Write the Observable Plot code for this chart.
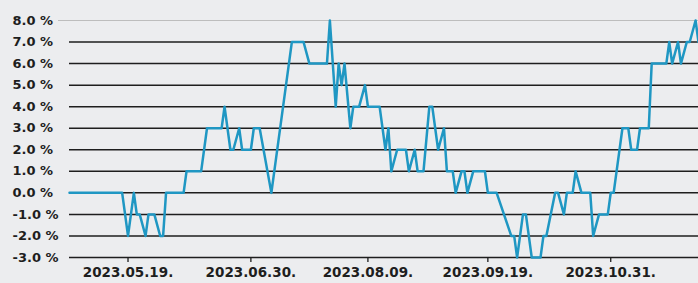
<!DOCTYPE html>
<html>
<head>
<meta charset="utf-8">
<script src="https://cdn.jsdelivr.net/npm/d3@7"></script>
<script src="https://cdn.jsdelivr.net/npm/@observablehq/plot@0.6"></script>
<style>
  html, body { margin: 0; padding: 0; background: #ecedef; }
  #chart svg { display: block; background: #ecedef; overflow: visible; }
</style>
</head>
<body>
<div id="chart"></div>
<script>
const dates = ["2023-04-29","2023-05-17","2023-05-19","2023-05-21","2023-05-22","2023-05-23","2023-05-25","2023-05-26","2023-05-28","2023-05-30","2023-05-31","2023-06-01","2023-06-07","2023-06-08","2023-06-13","2023-06-15","2023-06-20","2023-06-21","2023-06-23","2023-06-24","2023-06-26","2023-06-27","2023-06-30","2023-07-01","2023-07-03","2023-07-07","2023-07-14","2023-07-18","2023-07-20","2023-07-26","2023-07-27","2023-07-28","2023-07-29","2023-07-30","2023-07-31","2023-08-01","2023-08-03","2023-08-04","2023-08-06","2023-08-08","2023-08-09","2023-08-13","2023-08-15","2023-08-16","2023-08-17","2023-08-19","2023-08-22","2023-08-23","2023-08-25","2023-08-26","2023-08-28","2023-08-30","2023-08-31","2023-09-02","2023-09-04","2023-09-05","2023-09-07","2023-09-08","2023-09-10","2023-09-11","2023-09-12","2023-09-14","2023-09-18","2023-09-19","2023-09-22","2023-09-27","2023-09-28","2023-09-29","2023-10-01","2023-10-02","2023-10-04","2023-10-07","2023-10-08","2023-10-09","2023-10-12","2023-10-13","2023-10-15","2023-10-16","2023-10-18","2023-10-19","2023-10-21","2023-10-24","2023-10-25","2023-10-27","2023-10-30","2023-10-31","2023-11-01","2023-11-04","2023-11-06","2023-11-07","2023-11-09","2023-11-10","2023-11-13","2023-11-14","2023-11-19","2023-11-20","2023-11-21","2023-11-23","2023-11-24","2023-11-26","2023-11-27","2023-11-29","2023-11-30"];

const values = [0,0,-2,0,-1,-1,-2,-1,-1,-2,-2,0,0,1,1,3,3,4,2,2,3,2,2,3,3,0,7,7,6,6,8,6,4,6,5,6,3,4,4,5,4,4,2,3,1,2,2,1,2,1,1,4,4,2,3,1,1,0,1,1,0,1,1,0,0,-2,-2,-3,-1,-1,-3,-3,-2,-2,0,0,-1,0,0,1,0,0,-2,-1,-1,0,0,3,3,2,2,3,3,6,6,7,6,7,6,7,7,8,7];

const xTickDates = ["2023-05-19","2023-06-30","2023-08-09","2023-09-19","2023-10-31"];
const yTicks = [-3,-2,-1,0,1,2,3,4,5,6,7,8];
const xDomain = ["2023-04-29","2023-11-30"];

const parse = d3.utcParse("%Y-%m-%d");
const data = dates.map((d, i) => ({date: parse(d), value: values[i]}));
const ticks = xTickDates.map(parse);
const fmtX = d3.utcFormat("%Y.%m.%d.");
const fmtY = v => `${v.toFixed(1)} %`;

const ink = "#1e1e1e";

const chart = Plot.plot({
  width: 698,
  height: 283,
  marginTop: 20,
  marginBottom: 26,
  marginLeft: 69,
  marginRight: 0,
  style: {background: "#ecedef", fontFamily: "'DejaVu Sans', sans-serif"},
  x: {type: "utc", domain: xDomain.map(parse), label: null},
  y: {domain: [-3, 8], label: null},
  marks: [
    Plot.ruleY(yTicks.filter(v => v < 8), {stroke: ink, strokeWidth: 1.5}),
    Plot.ruleY([8], {stroke: "#bdbdbd", strokeWidth: 1.2, insetLeft: -11}),
    Plot.axisY({
      ticks: yTicks, tickSize: 0, tickPadding: 3, tickFormat: fmtY,
      textAnchor: "start", dx: -54, label: null,
      fontSize: 13, fontWeight: "bold", fill: ink
    }),
    Plot.axisX({
      ticks: ticks, tickSize: 5, tickPadding: 5, tickFormat: fmtX, label: null,
      stroke: ink, strokeWidth: 1.3,
      fontSize: 13.5, fontWeight: "bold", fill: ink
    }),
    Plot.line(data, {x: "date", y: "value", stroke: "#1f97c3", strokeWidth: 2.5, strokeLinejoin: "round"})
  ]
});
document.getElementById("chart").append(chart);
</script>
</body>
</html>
